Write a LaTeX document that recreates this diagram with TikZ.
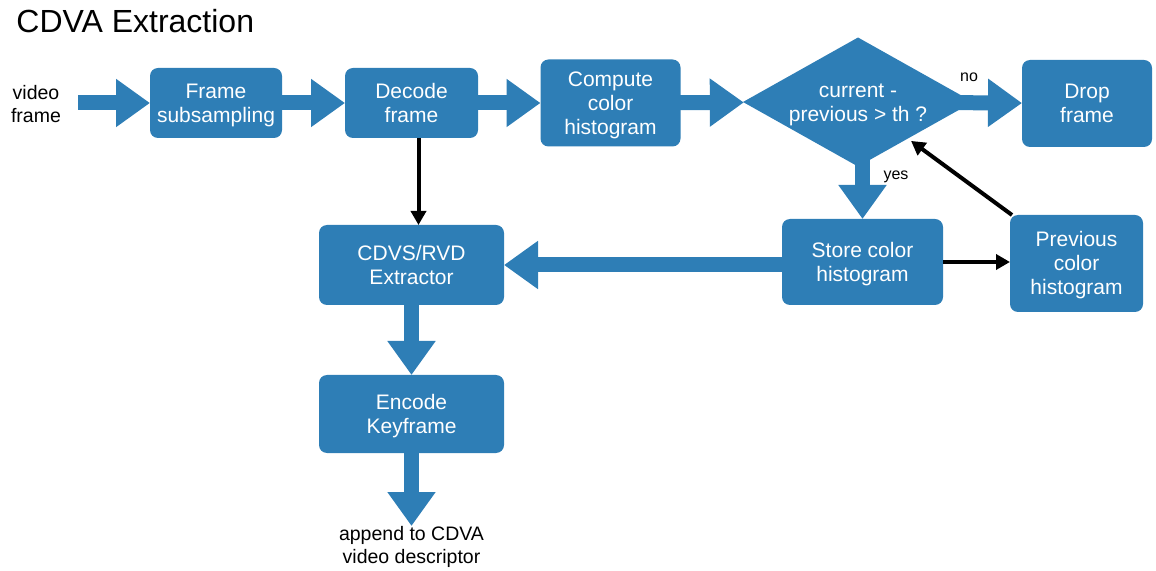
\documentclass[tikz,border=0pt]{standalone}
\usepackage{fontspec}
\setmainfont{Liberation Sans}
\usetikzlibrary{arrows.meta,shapes.geometric,backgrounds}
\definecolor{boxblue}{RGB}{46,126,182}
% centred lines, set a little below the optical middle of their box
\newcommand{\boxlines}[1]{\raisebox{-1.25pt}[\height][\depth]{\begin{tabular}{@{}c@{}}#1\end{tabular}}}
\tikzset{
  procbox/.style={fill=boxblue, rounded corners=4pt, inner sep=0pt, outer sep=0pt,
    text=white, align=center, font=\fontsize{10.5}{12}\selectfont},
  decbox/.style={diamond, fill=boxblue, inner sep=0pt, outer sep=0pt},
  boxtext/.style={text=white, align=center, inner sep=0pt, font=\fontsize{10.5}{12}\selectfont},
  plaintext/.style={align=center, inner sep=0pt, font=\fontsize{9.75}{11.5}\selectfont},
  smalltext/.style={inner sep=0pt, font=\fontsize{8}{9}\selectfont},
  bigarrow/.style={draw=boxblue, line width=7.5pt, -{Triangle[width=23pt,length=17pt]}},
  thinarrow/.style={draw=black, line width=2pt, -{Triangle[width=7.5pt,length=7pt]}}
}
\begin{document}
\begin{tikzpicture}[x=0.5pt,y=-0.5pt]
\useasboundingbox (0,0) rectangle (1156,571);

% title
\node[inner sep=0pt, anchor=base west, font=\fontsize{16}{18}\selectfont] (title) at (16,33) {CDVA Extraction};

% processing steps
\node[procbox, minimum width=66pt, minimum height=35pt] (frame) at (216,103) {\boxlines{Frame\\subsampling}};
\node[procbox, minimum width=66.5pt, minimum height=35pt] (decode) at (411.5,103) {\boxlines{Decode\\frame}};
\node[procbox, minimum width=70pt, minimum height=43.5pt] (compute) at (610.5,103) {\boxlines{Compute\\color\\histogram}};
\node[decbox, minimum width=115pt, minimum height=64.5pt] (dec) at (858,102) {};
\node[boxtext] (dectext) at (858,104.5) {current -\\previous > th ?};
\node[procbox, minimum width=65pt, minimum height=43.5pt] (drop) at (1087,103.5) {\boxlines{Drop\\frame}};
\node[procbox, minimum width=80.5pt, minimum height=43pt] (store) at (862.5,262) {\boxlines{Store color\\histogram}};
\node[procbox, minimum width=66.5pt, minimum height=48.5pt] (prev) at (1076.5,263.5) {\boxlines{Previous\\color\\histogram}};
\node[procbox, minimum width=92.5pt, minimum height=40pt] (cdvs) at (411.5,265) {\boxlines{CDVS/RVD\\Extractor}};
\node[procbox, minimum width=92.5pt, minimum height=39pt] (encode) at (411.5,414) {\boxlines{Encode\\Keyframe}};

% free labels
\node[plaintext] (input) at (36,104) {video\\frame};
\coordinate (inputend) at (78,103);
\node[plaintext, anchor=north] (append) at (411.5,526) {append to CDVA\\video descriptor};
\node[smalltext] (nolabel) at (969,77) {no};
\node[smalltext] (yeslabel) at (896,177) {yes};

% main data flow, behind the boxes
\begin{scope}[on background layer]
  \draw[bigarrow] (inputend) -- (frame);
  \draw[bigarrow] (frame.center) -- (decode);
  \draw[bigarrow] (decode.center) -- (compute);
  \draw[bigarrow] (compute.center) -- (dec);
  \draw[bigarrow] (dec.center) -- (drop);
  \draw[bigarrow] (dec.center -| store.center) -- (store.north);
  \draw[bigarrow] (store.center |- cdvs.east) -- (cdvs.east);
  \draw[bigarrow] (cdvs.center) -- (encode);
  \draw[bigarrow] (encode.center) -- (append.north);
\end{scope}

% histogram bookkeeping
\draw[thinarrow] ([xshift=3.5pt]decode.south) -- ([xshift=3.5pt]decode.south |- cdvs.north);
\draw[thinarrow] (store.east) -- (store.east -| prev.west);
\draw[thinarrow, shorten >=2pt] ([xshift=1pt]prev.north west) -- (dec);
\end{tikzpicture}
\end{document}
